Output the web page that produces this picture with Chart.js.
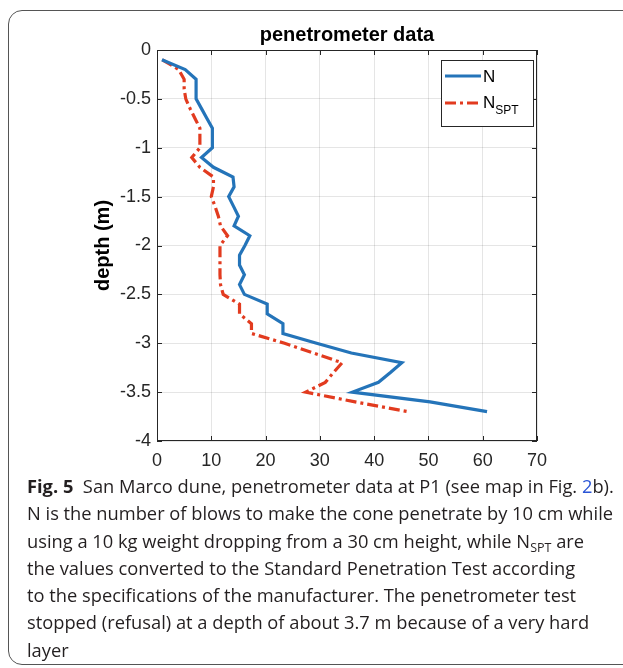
<!DOCTYPE html>
<html>
<head>
<meta charset="utf-8">
<script src="https://cdn.jsdelivr.net/npm/chart.js@4.4.1/dist/chart.umd.min.js"></script>
<style>
body { margin: 0; background: #fff; width: 623px; height: 668px; overflow: hidden; position: relative; }
#frame { position: absolute; left: 8px; top: 10px; width: 640px; height: 655px; border: 1.5px solid #555; border-radius: 14px; box-sizing: border-box; }
#wrap { position: absolute; left: 0; top: 0; width: 623px; height: 481px; }
#caption { position: absolute; left: 27px; top: 472px; font-family: "Open Sans", sans-serif; font-size: 18.3px; line-height: 27.3px; color: #231f20; white-space: nowrap; }
#caption b { font-weight: 700; }
#caption .ref { color: #2a55d6; }
#caption sub { font-size: 12.5px; vertical-align: -4px; line-height: 0; }
</style>
</head>
<body>
<div id="frame"></div>
<div id="wrap"><canvas id="penChart" width="623" height="481"></canvas></div>
<div id="caption"><b>Fig. 5</b>&nbsp; San Marco dune, penetrometer data at P1 (see map in Fig. <span class="ref">2</span>b).<br>N is the number of blows to make the cone penetrate by 10 cm while<br>using a 10 kg weight dropping from a 30 cm height, while N<sub>SPT</sub> are<br>the values converted to the Standard Penetration Test according<br>to the specifications of the manufacturer. The penetrometer test<br>stopped (refusal) at a depth of about 3.7 m because of a very hard<br>layer</div>
<script>
"use strict";

// depth of each reading (m)
var depth = [-0.1, -0.2, -0.3, -0.4, -0.5, -0.6, -0.7, -0.8, -0.9, -1.0,
             -1.1, -1.2, -1.3, -1.4, -1.5, -1.6, -1.7, -1.8, -1.9, -2.0,
             -2.1, -2.2, -2.3, -2.4, -2.5, -2.6, -2.7, -2.8, -2.9, -3.0,
             -3.1, -3.2, -3.3, -3.4, -3.5, -3.6, -3.7];

// blows per 10 cm
var blowsN = [0.9, 5.2, 7.2, 7.2, 7.2, 8.2, 9.2, 10.2, 10.2, 10.2,
              8.2, 10.4, 14, 14.2, 13.2, 14.1, 15, 14.2, 17.1, 16.2,
              15.2, 15.2, 16.1, 15.2, 16.1, 20.3, 20.3, 23.2, 23.2, 29.4,
              35.8, 45.1, 43, 40.8, 36, 50.3, 60.8];

// converted to SPT
var blowsSPT = [1, 4, 5, 5, 5.3, 6.1, 7, 7.9, 7.9, 7.9,
                6.4, 7.9, 10.4, 10.4, 10, 10.7, 11.3, 11.7, 13, 11.6,
                11.6, 11.6, 11.6, 11.7, 12.2, 15.2, 15.2, 17.4, 17.4, 23.5,
                28.8, 34.1, 32.5, 31, 27.4, 36.5, 46.3];

var xTicks = [0, 10, 20, 30, 40, 50, 60, 70];
var yTicks = [0, -0.5, -1, -1.5, -2, -2.5, -3, -3.5, -4];

var chartTitle = "penetrometer data";
var yLabel = "depth (m)";

var blue = "#2474b9";
var red = "#e23b1f";

function toPoints(values) {
    var pts = [];
    for (var i = 0; i < values.length; i++) {
        pts.push({ x: values[i], y: depth[i] });
    }
    return pts;
}

// box, inward ticks, title and legend (MATLAB look)
var matlabFrame = {
    id: "matlabFrame",
    afterDraw: function (chart) {
        var ctx = chart.ctx;
        var a = chart.chartArea;
        var xs = chart.scales.x;
        var ys = chart.scales.y;
        var t = 5;
        ctx.save();
        ctx.strokeStyle = "#262626";
        ctx.lineWidth = 1;
        ctx.strokeRect(a.left + 0.5, a.top + 0.5, a.right - a.left - 1, a.bottom - a.top - 1);
        ctx.beginPath();
        xTicks.forEach(function (v) {
            var px = Math.round(xs.getPixelForValue(v)) + 0.5;
            ctx.moveTo(px, a.bottom); ctx.lineTo(px, a.bottom - t);
            ctx.moveTo(px, a.top); ctx.lineTo(px, a.top + t);
        });
        yTicks.forEach(function (v) {
            var py = Math.round(ys.getPixelForValue(v)) + 0.5;
            ctx.moveTo(a.left, py); ctx.lineTo(a.left + t, py);
            ctx.moveTo(a.right, py); ctx.lineTo(a.right - t, py);
        });
        ctx.stroke();

        // title
        ctx.fillStyle = "#000";
        ctx.font = "bold 20px 'Liberation Sans'";
        ctx.textAlign = "center";
        ctx.textBaseline = "middle";
        ctx.fillText(chartTitle, (a.left + a.right) / 2, 35);

        // legend
        var lx = 441, ly = 60, lw = 92, lh = 66;
        ctx.fillStyle = "#fff";
        ctx.fillRect(lx, ly, lw, lh);
        ctx.strokeStyle = "#262626";
        ctx.strokeRect(lx + 0.5, ly + 0.5, lw, lh);
        ctx.lineWidth = 3;
        ctx.strokeStyle = blue;
        ctx.beginPath(); ctx.moveTo(445, 76); ctx.lineTo(481, 76); ctx.stroke();
        ctx.strokeStyle = red;
        ctx.setLineDash([11, 4, 3, 4]);
        ctx.beginPath(); ctx.moveTo(445, 103); ctx.lineTo(481, 103); ctx.stroke();
        ctx.setLineDash([]);
        ctx.fillStyle = "#000";
        ctx.textAlign = "left";
        ctx.font = "17px 'Liberation Sans'";
        ctx.fillText("N", 483, 77);
        ctx.fillText("N", 483, 103);
        var nw = ctx.measureText("N").width;
        ctx.font = "12px 'Liberation Sans'";
        ctx.fillText("SPT", 483 + nw, 111);
        ctx.restore();
    }
};

var ctx = document.getElementById("penChart").getContext("2d");
var chart = new Chart(ctx, {
    type: "line",
    data: {
        datasets: [{
            label: "N",
            data: toPoints(blowsN),
            borderColor: blue,
            borderWidth: 3.2,
            pointRadius: 0,
            tension: 0,
            fill: false
        }, {
            label: "NSPT",
            data: toPoints(blowsSPT),
            borderColor: red,
            borderWidth: 3.2,
            borderDash: [11, 4, 3, 4],
            pointRadius: 0,
            tension: 0,
            fill: false
        }]
    },
    options: {
        responsive: false,
        animation: false,
        layout: { padding: { left: 0, right: 86, top: 50, bottom: 0 } },
        plugins: {
            legend: { display: false },
            title: { display: false },
            tooltip: { enabled: false }
        },
        scales: {
            x: {
                type: "linear",
                min: 0,
                max: 70,
                afterBuildTicks: function (axis) {
                    axis.ticks = xTicks.map(function (v) { return { value: v }; });
                },
                afterFit: function (axis) { axis.height = 40; },
                grid: { color: "rgba(0,0,0,0.1)", drawTicks: false },
                border: { display: false },
                ticks: {
                    padding: 9,
                    maxRotation: 0,
                    color: "#262626",
                    font: { family: "Liberation Sans", size: 18 },
                    callback: function (v) { return String(v); }
                }
            },
            y: {
                type: "linear",
                min: -4,
                max: 0,
                afterBuildTicks: function (axis) {
                    axis.ticks = yTicks.map(function (v) { return { value: v }; });
                },
                afterFit: function (axis) { axis.width = 157; },
                grid: { color: "rgba(0,0,0,0.1)", drawTicks: false },
                border: { display: false },
                title: {
                    display: true,
                    text: yLabel,
                    color: "#000",
                    font: { family: "Liberation Sans", size: 20, weight: "bold" },
                    padding: { top: 91, bottom: 0 }
                },
                ticks: {
                    padding: 6,
                    color: "#262626",
                    font: { family: "Liberation Sans", size: 18 },
                    callback: function (v) { return String(v); }
                }
            }
        }
    },
    plugins: [matlabFrame]
});
</script>
</body>
</html>
